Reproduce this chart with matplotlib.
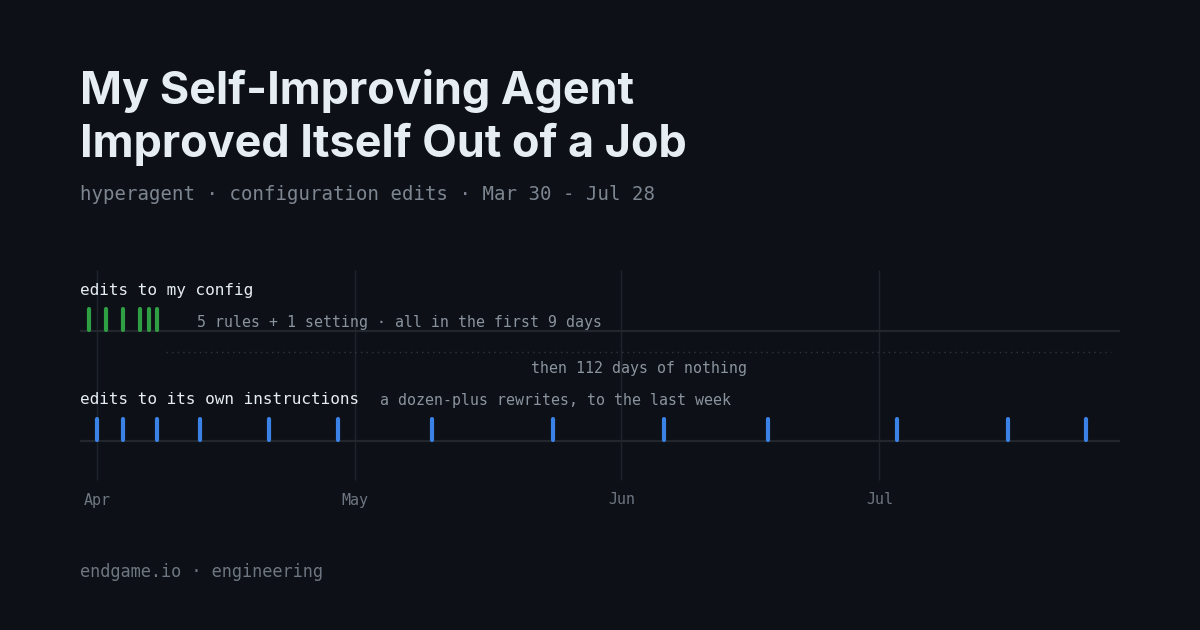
import numpy as np
import matplotlib
matplotlib.use("Agg")
import matplotlib.pyplot as plt
import matplotlib.dates as mdates

# data
config_edits = ["2025-03-31", "2025-04-02", "2025-04-04", "2025-04-06", "2025-04-07", "2025-04-08"]
instruction_edits = ["2025-04-01", "2025-04-04", "2025-04-08", "2025-04-13", "2025-04-21", "2025-04-29",
                     "2025-05-10", "2025-05-24", "2025-06-06", "2025-06-18", "2025-07-03",
                     "2025-07-16", "2025-07-25"]
month_starts = ["2025-04-01", "2025-05-01", "2025-06-01", "2025-07-01"]
month_labels = ["Apr", "May", "Jun", "Jul"]
start, end = "2025-03-30", "2025-07-29"   # end is exclusive (through Jul 28)
quiet_from, quiet_to = "2025-04-09", "2025-07-28"

BG = "#0d1117"
GREEN = "#2ea043"
BLUE = "#3b82e6"
MONO = "DejaVu Sans Mono"

def d(s):
    return mdates.date2num(np.datetime64(s))

fig = plt.figure(figsize=(12, 6.3), dpi=100, facecolor=BG)
ax = fig.add_axes([80 / 1200, 0, 1040 / 1200, 1])
ax.set_facecolor(BG)
ax.set_xlim(d(start), d(end))
ax.set_ylim(630, 0)
ax.axis("off")

def ftext(x, y, s, **kw):
    fig.text(x / 1200, 1 - y / 630, s, **kw)

# titles
ftext(80, 91, "My Self-Improving Agent", fontfamily="Inter", fontweight="bold",
      fontsize=32.4, color="#e6edf3", va="center")
ftext(80, 144, "Improved Itself Out of a Job", fontfamily="Inter", fontweight="bold",
      fontsize=32.4, color="#e6edf3", va="center")
ftext(80, 194, "hyperagent \u00b7 configuration edits \u00b7 Mar 30 - Jul 28", fontfamily=MONO,
      fontsize=13.65, color="#7d8590", va="center")
ftext(80, 572, "endgame.io \u00b7 engineering", fontfamily=MONO,
      fontsize=12.15, color="#6e7681", va="center")

# month grid
mx = [d(m) for m in month_starts]
ax.vlines(mx, 270, 480, color="#1f242c", lw=1, zorder=0)
for x, lab in zip(mx, month_labels):
    ax.text(x, 500, lab, ha="center", va="center", fontfamily=MONO, fontsize=10.8, color="#6e7681")

# baselines
ax.hlines([331, 441], d(start), d(end), color="#22272e", lw=1.6, zorder=1)

# tick marks
ax.vlines([d(s) for s in config_edits], 308.5, 329.5, color=GREEN, lw=3, capstyle="round", zorder=3)
ax.vlines([d(s) for s in instruction_edits], 418.5, 439.5, color=BLUE, lw=3, capstyle="round", zorder=3)

# quiet stretch
ax.hlines(352, d(quiet_from), d(quiet_to), color="#30363d", lw=1, linestyles=(0, (1, 3)), zorder=1)
ax.text((d(quiet_from) + d(quiet_to)) / 2, 369, "then 112 days of nothing", ha="center", va="center",
        fontfamily=MONO, fontsize=10.7, color="#8b949e")

# row labels
ftext(80, 291, "edits to my config", fontfamily=MONO, fontsize=11.5, color="#e6edf3", va="center")
ftext(197, 322, "5 rules + 1 setting \u00b7 all in the first 9 days", fontfamily=MONO,
      fontsize=10.7, color="#8b949e", va="center")
ftext(80, 400, "edits to its own instructions", fontfamily=MONO, fontsize=11.5, color="#e6edf3", va="center")
ftext(380, 401, "a dozen-plus rewrites, to the last week", fontfamily=MONO,
      fontsize=10.7, color="#8b949e", va="center")

fig.savefig("out.png", dpi=100, facecolor=BG)
